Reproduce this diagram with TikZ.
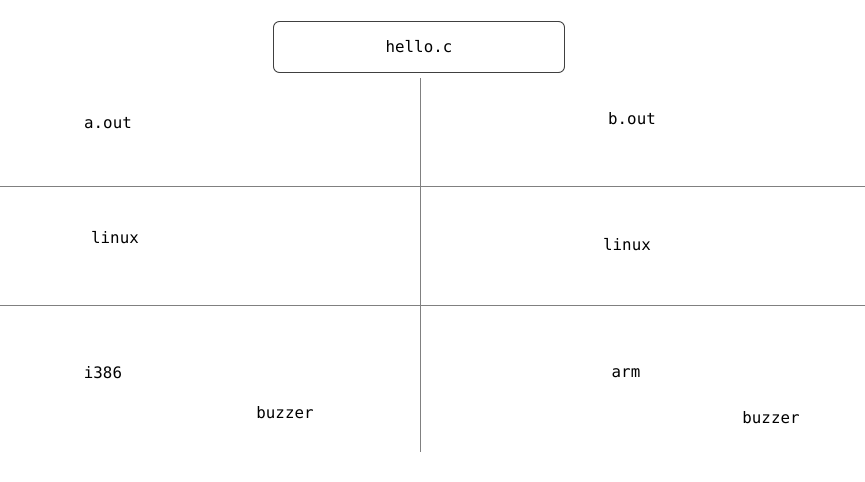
\documentclass[tikz,border=0pt]{standalone}
\usepackage{fontspec}
\setmonofont{DejaVu Sans Mono}
\begin{document}
\begin{tikzpicture}[x=1pt, y=-1pt, line width=0.9pt,
        label/.style={font=\ttfamily\fontsize{15.8}{18}\selectfont, inner sep=0pt},
        filebox/.style={draw=black!75, rounded corners=6pt, minimum width=291pt, minimum height=51pt, label}]
        \useasboundingbox (0,0) rectangle (865,482);
        \node[filebox] (src) at (419,47) {hello.c};
        % dividing lines
        \coordinate (top) at (420,78);
        \coordinate (bottom) at (420,452);
        \draw[gray] (top) -- (bottom);
        \coordinate (l1) at (0,186);
        \coordinate (r1) at (865,186);
        \coordinate (l2) at (0,305);
        \coordinate (r2) at (865,305);
        \draw[gray] (l1) -- (r1);
        \draw[gray] (l2) -- (r2);
        \foreach \x/\y/\name/\txt in {
            108/123/aout/a.out,
            632/119/bout/b.out,
            115/238/oslinuxa/linux,
            627/245/oslinuxb/linux,
            103/373/cpui/i386,
            285/413/drva/buzzer,
            626/373/cpuarm/arm,
            771/418/drvb/buzzer
        }{
            \node[label] (\name) at (\x,\y) {\txt};
        }
    \end{tikzpicture}
\end{document}
